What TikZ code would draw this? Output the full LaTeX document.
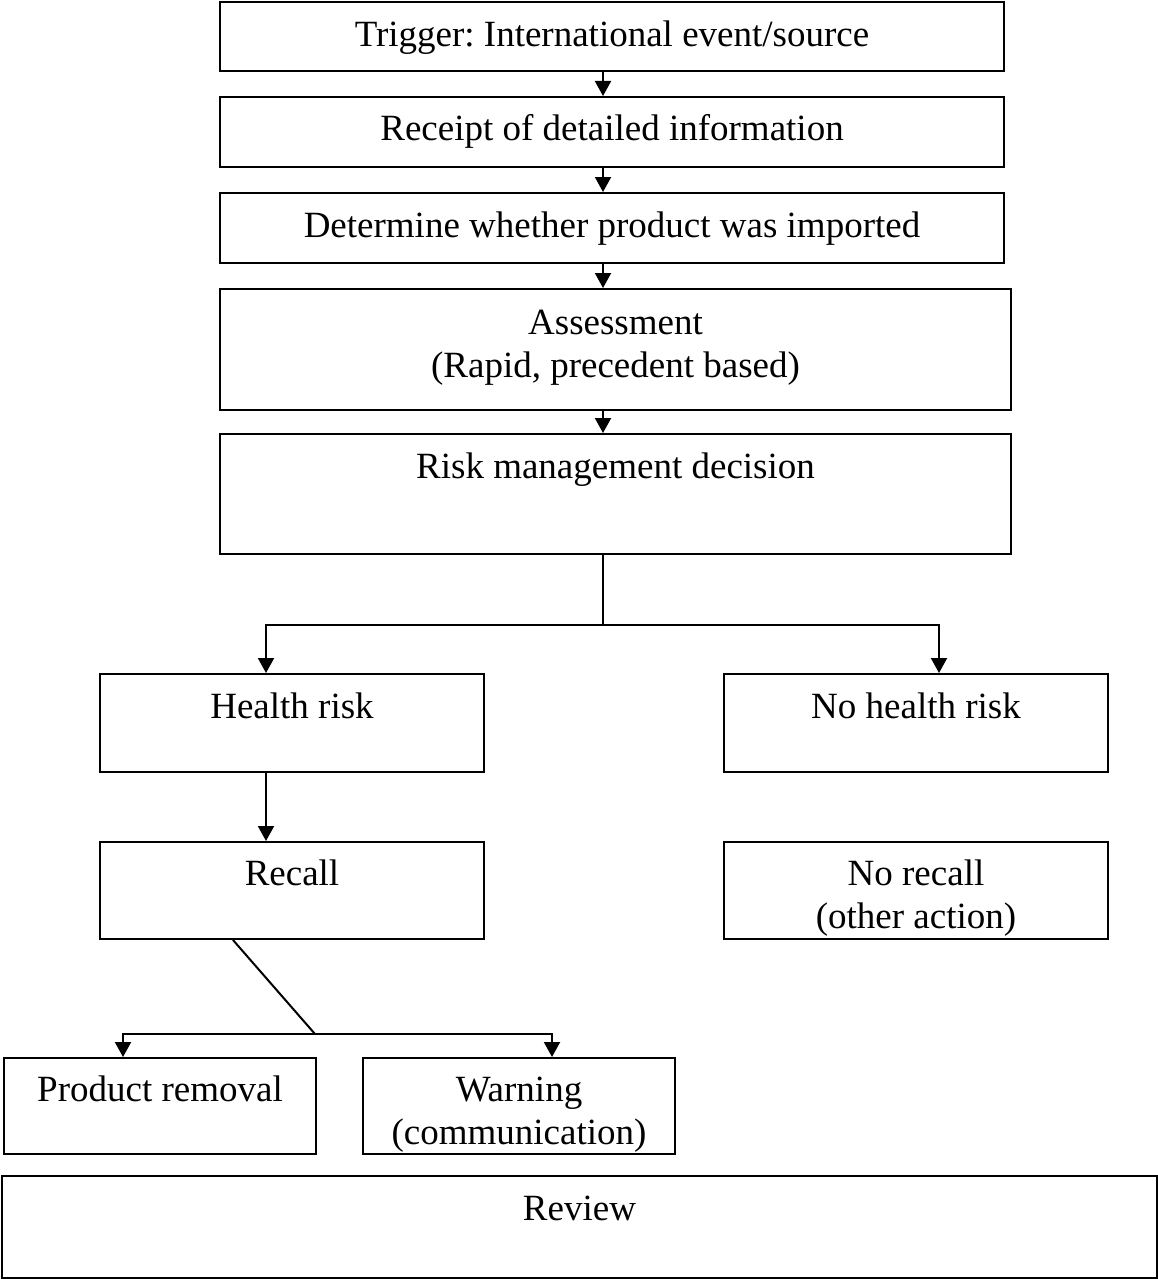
\documentclass[tikz,border=0pt]{standalone}
\usepackage{fontspec}
\setmainfont{Liberation Serif}
\usetikzlibrary{arrows.meta,calc}
\frenchspacing
\begin{document}
\begin{tikzpicture}[x=1pt,y=-1pt,
  box/.style={draw,line width=2pt,rectangle,inner sep=0pt,anchor=north west},
  txt/.style={font=\fontsize{37}{43}\selectfont,align=center,inner sep=0pt,anchor=base},
  conn/.style={line width=2pt},
  arr/.style={line width=2pt,-{Triangle[width=16pt,length=15pt]}}]
\useasboundingbox (0,0) rectangle (1158,1279);
% boxes
\node[box,minimum width=784pt,minimum height=69pt] (b1) at (219,1) {};
\node[box,minimum width=784pt,minimum height=70pt] (b2) at (219,96) {};
\node[box,minimum width=784pt,minimum height=70pt] (b3) at (219,192) {};
\node[box,minimum width=791pt,minimum height=121pt] (b4) at (219,288) {};
\node[box,minimum width=791pt,minimum height=120pt] (b5) at (219,433) {};
\node[box,minimum width=384pt,minimum height=98pt] (b6) at (99,673) {};
\node[box,minimum width=384pt,minimum height=98pt] (b7) at (723,673) {};
\node[box,minimum width=384pt,minimum height=97pt] (b8) at (99,841) {};
\node[box,minimum width=384pt,minimum height=97pt] (b9) at (723,841) {};
\node[box,minimum width=312pt,minimum height=96pt] (b10) at (3,1057) {};
\node[box,minimum width=312pt,minimum height=96pt] (b11) at (362,1057) {};
\node[box,minimum width=1155pt,minimum height=102pt] (b12) at (1,1175) {};
% texts (anchor base = baseline of last line)
\node[txt] (t1) at ($(b1.north)+(0,46)$) {Trigger: International event/source};
\node[txt] (t2) at ($(b2.north)+(0,45)$) {Receipt of detailed information};
\node[txt] (t3) at ($(b3.north)+(0,45)$) {Determine whether product was imported};
\node[txt] (t4) at ($(b4.north)+(0,89)$) {Assessment\\(Rapid, precedent based)};
\node[txt] (t5) at ($(b5.north)+(0,45)$) {Risk management decision};
\node[txt] (t6) at ($(b6.north)+(0,45)$) {Health risk};
\node[txt] (t7) at ($(b7.north)+(0,45)$) {No health risk};
\node[txt] (t8) at ($(b8.north)+(0,44)$) {Recall};
\node[txt] (t9) at ($(b9.north)+(0,87)$) {No recall\\(other action)};
\node[txt] (t10) at ($(b10.north)+(0,44)$) {Product removal};
\node[txt] (t11) at ($(b11.north)+(0,87)$) {Warning\\(communication)};
\node[txt] (t12) at ($(b12.north)+(0,45)$) {Review};
% connectors
\coordinate (j1) at (603,625);
\coordinate (j2) at (315,1034);
\draw[arr] (j1 |- b1.south) -- (j1 |- b2.north);
\draw[arr] (j1 |- b2.south) -- (j1 |- b3.north);
\draw[arr] (j1 |- b3.south) -- (j1 |- b4.north);
\draw[arr] (j1 |- b4.south) -- (j1 |- b5.north);
\draw[conn] (j1 |- b5.south) -- (j1);
\draw[arr] (j1) -| ([xshift=-26pt]b6.north);
\draw[arr] (j1) -| ([xshift=23pt]b7.north);
\draw[arr] ([xshift=-26pt]b6.south) -- ([xshift=-26pt]b8.north);
\draw[conn] ([xshift=-59pt]b8.south) -- (j2);
\draw[arr] (j2) -| ([xshift=-37pt]b10.north);
\draw[arr] (j2) -| ([xshift=33pt]b11.north);
\end{tikzpicture}
\end{document}
